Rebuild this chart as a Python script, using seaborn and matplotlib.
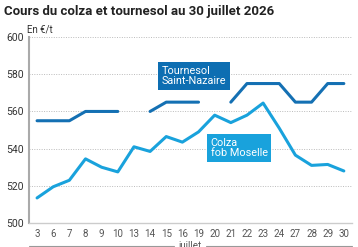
import numpy as np
import pandas as pd
import seaborn as sns
import matplotlib.pyplot as plt
from matplotlib.lines import Line2D

# Données (€/t)
jours = ["3", "6", "7", "8", "9", "10", "13", "14", "15", "16",
         "19", "20", "21", "22", "23", "24", "27", "28", "29", "30"]
tournesol = [555, 555, 555, 560, 560, 560, np.nan, 560, 565, 565,
             565, np.nan, 565, 575, 575, 575, 565, 565, 575, 575]
colza = [513.5, 519.5, 523, 534.5, 530, 527.5, 541, 538.5, 546.5, 543.5,
         549, 558, 554, 558, 564.5, 551, 536.5, 531, 531.5, 528]

col_tourn = "#1470b3"
col_colza = "#19a2dc"

sns.set_theme(style="white")
plt.rcParams['font.family'] = ['Roboto', 'DejaVu Sans']

# table longue, les trous (NaN) coupent la courbe en segments
rows = []
for serie, vals in [("tournesol", tournesol), ("colza", colza)]:
    seg = 0
    for i, v in enumerate(vals):
        if np.isnan(v):
            seg += 1
            continue
        rows.append({"pos": i, "prix": v, "serie": serie, "seg": f"{serie}{seg}"})
df = pd.DataFrame(rows)

fig = plt.figure(figsize=(3.58, 2.47), dpi=100)
ax = fig.add_axes([0.081, 0.097, 0.902, 0.753])

sns.lineplot(data=df, x="pos", y="prix", hue="serie", units="seg", estimator=None,
             palette={"tournesol": col_tourn, "colza": col_colza},
             linewidth=2.2, sort=False, legend=False, ax=ax)

ax.set_xlim(-0.5, len(jours) - 0.5)
ax.set_ylim(500, 600)
ax.set_xticks(range(len(jours)))
ax.set_xticklabels(jours, fontsize=7, color="#555555")
ax.set_yticks([500, 520, 540, 560, 580, 600])
ax.set_yticklabels(["500", "520", "540", "560", "580", "600"], fontsize=7.5, color="#333333")
ax.tick_params(axis="both", length=0, pad=4)
ax.set_xlabel("")
ax.set_ylabel("")

for y in [520, 540, 560, 580, 600]:
    ax.axhline(y, color="#bbbbbb", linestyle=(0, (1, 1.5)), linewidth=0.7, zorder=0)

for s in ["top", "right"]:
    ax.spines[s].set_visible(False)
ax.spines["left"].set_color("#aaaaaa")
ax.spines["left"].set_linewidth(1.5)
ax.spines["bottom"].set_color("#cccccc")
ax.spines["bottom"].set_linewidth(1)

# étiquettes des séries
ax.text(7.7, 579, "Tournesol\nSaint-Nazaire", color="white", fontsize=7.8,
        va="center", ha="left", linespacing=1.0,
        bbox=dict(boxstyle="square,pad=0.35", fc="#0d6eb2", ec="none"))
ax.text(10.75, 540.5, "Colza\nfob Moselle", color="white", fontsize=7.8,
        va="center", ha="left", linespacing=1.0,
        bbox=dict(boxstyle="square,pad=0.35", fc=col_colza, ec="none"))

fig.text(0.012, 0.955, "Cours du colza et tournesol au 30 juillet 2026",
         fontsize=9.5, fontweight="bold", color="#222222", va="center")
fig.text(0.075, 0.88, "En €/t", fontsize=7, color="#333333", va="center")

# axe "juillet" en bas
fig.add_artist(Line2D([0.08, 0.485], [0.005, 0.005], color="#999999", linewidth=0.8))
fig.add_artist(Line2D([0.575, 0.983], [0.005, 0.005], color="#999999", linewidth=0.8))
fig.text(0.53, 0.004, "juillet", fontsize=7, color="#555555", ha="center", va="center")

fig.savefig("out.png", dpi=100)
